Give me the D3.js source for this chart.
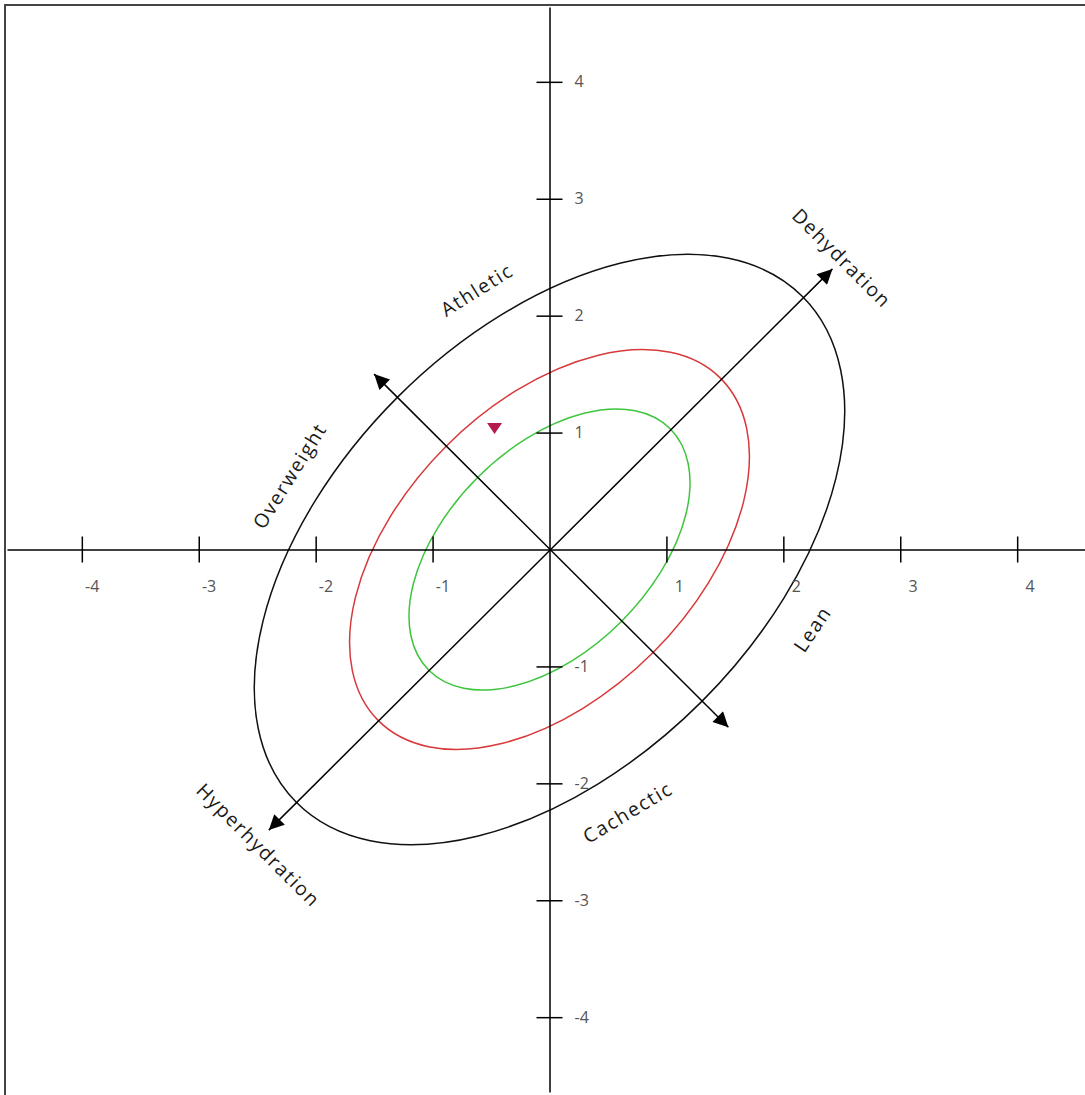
<!DOCTYPE html>
<html>
<head>
<meta charset="utf-8">
<script src="https://cdn.jsdelivr.net/npm/d3@7"></script>
<style>
  html, body { margin: 0; padding: 0; background: #fff; }
  svg { display: block; }
</style>
</head>
<body>
<div id="chart"></div>
<script>
(function () {

var width = 1085,
    height = 1095;

// tick values for both axes
var xTicks = [-4, -3, -2, -1, 1, 2, 3, 4],
    yTicks = [-4, -3, -2, -1, 1, 2, 3, 4];

// tolerance ellipses (50%, 75%, 95%) - semi axes in z units, major axis on the 45 deg diagonal
var ellipseNames = ["50%", "75%", "95%"],
    ellipseMajor = [1.46, 2.07, 3.06],
    ellipseMinor = [0.87, 1.25, 1.84],
    ellipseColors = ["#3ec53e", "#d8393b", "#111111"];

// arrows (from, to)
var arrowFrom = [[-2.40, -2.40], [-1.50, 1.50]],
    arrowTo   = [[2.42, 2.40], [1.53, -1.52]];

// measured point
var pointX = [-0.47],
    pointY = [1.04];

// quadrant labels
var labelText  = ["Athletic", "Overweight", "Dehydration", "Hyperhydration", "Lean", "Cachectic"],
    labelX     = [-0.62, -2.22, 2.50, -2.49, 2.25, 0.67],
    labelY     = [2.22, 0.63, 2.49, -2.53, -0.68, -2.25],
    labelAngle = [-32, -58, 45, 45, -56, -31];

var x = d3.scaleLinear().domain([-4.64, 4.64]).range([7, 1092]);
var y = d3.scaleLinear().domain([-4.64, 4.64]).range([1092, 7]);

var svg = d3.select("#chart").append("svg")
    .attr("width", width)
    .attr("height", height);

// frame (top + left only)
svg.append("path")
    .attr("d", "M5,1095 V5 H1085")
    .attr("fill", "none")
    .attr("stroke", "#444")
    .attr("stroke-width", 2);

// ellipses
svg.selectAll(".ell")
    .data(ellipseNames)
  .enter().append("ellipse")
    .attr("class", "ell")
    .attr("cx", x(0))
    .attr("cy", y(0))
    .attr("rx", function(d, i) { return x(ellipseMajor[i]) - x(0); })
    .attr("ry", function(d, i) { return x(ellipseMinor[i]) - x(0); })
    .attr("transform", "rotate(-45," + x(0) + "," + y(0) + ")")
    .attr("fill", "none")
    .attr("stroke", function(d, i) { return ellipseColors[i]; })
    .attr("stroke-width", 1.5);

var fmt = function(d) { return String(d); };  // plain hyphen minus like the original

// x axis
var xAxis = svg.append("g")
    .attr("transform", "translate(0," + y(0) + ")")
    .call(d3.axisBottom(x).tickValues(xTicks).tickSizeOuter(0).tickFormat(fmt));
xAxis.select(".domain").attr("stroke", "#000").attr("stroke-width", 1.5);
xAxis.selectAll(".tick line").attr("y1", -13).attr("y2", 13).attr("stroke", "#000").attr("stroke-width", 1.5);
xAxis.selectAll(".tick text")
    .attr("x", 17).attr("y", 42).attr("dy", null)
    .attr("text-anchor", "end")
    .attr("fill", "#555")
    .style("font", "16px 'Open Sans', sans-serif");

// y axis
var yAxis = svg.append("g")
    .attr("transform", "translate(" + x(0) + ",0)")
    .call(d3.axisRight(y).tickValues(yTicks).tickSizeOuter(0).tickFormat(fmt));
yAxis.select(".domain").attr("stroke", "#000").attr("stroke-width", 1.5);
yAxis.selectAll(".tick line").attr("x1", -13).attr("x2", 13).attr("stroke", "#000").attr("stroke-width", 1.5);
yAxis.selectAll(".tick text")
    .attr("x", 25)
    .attr("text-anchor", "start")
    .attr("fill", "#555")
    .style("font", "16px 'Open Sans', sans-serif");

// arrow head
svg.append("defs").append("marker")
    .attr("id", "head")
    .attr("viewBox", "0 0 10 10")
    .attr("refX", 10)
    .attr("refY", 5)
    .attr("markerWidth", 17)
    .attr("markerHeight", 15)
    .attr("markerUnits", "userSpaceOnUse")
    .attr("orient", "auto-start-reverse")
  .append("path")
    .attr("d", "M0,0 L10,5 L0,10 Z")
    .attr("fill", "#000");

svg.selectAll(".arrow")
    .data(arrowFrom)
  .enter().append("line")
    .attr("class", "arrow")
    .attr("x1", function(d) { return x(d[0]); })
    .attr("y1", function(d) { return y(d[1]); })
    .attr("x2", function(d, i) { return x(arrowTo[i][0]); })
    .attr("y2", function(d, i) { return y(arrowTo[i][1]); })
    .attr("stroke", "#000")
    .attr("stroke-width", 1.5)
    .attr("marker-start", "url(#head)")
    .attr("marker-end", "url(#head)");

// point
svg.selectAll(".pt")
    .data(pointX)
  .enter().append("path")
    .attr("class", "pt")
    .attr("d", "M-7.5,-5 L7.5,-5 L0,6 Z")
    .attr("transform", function(d, i) { return "translate(" + x(d) + "," + y(pointY[i]) + ")"; })
    .attr("fill", "#b51a4c");

// labels
svg.selectAll(".lbl")
    .data(labelText)
  .enter().append("text")
    .attr("class", "lbl")
    .attr("transform", function(d, i) {
      return "translate(" + x(labelX[i]) + "," + y(labelY[i]) + ") rotate(" + labelAngle[i] + ")";
    })
    .attr("text-anchor", "middle")
    .attr("dy", "0.35em")
    .attr("fill", "#1a1a1a")
    .style("font", "19.5px 'Open Sans', sans-serif")
    .style("letter-spacing", "1.6px")
    .text(function(d) { return d; });

})();
</script>
</body>
</html>
